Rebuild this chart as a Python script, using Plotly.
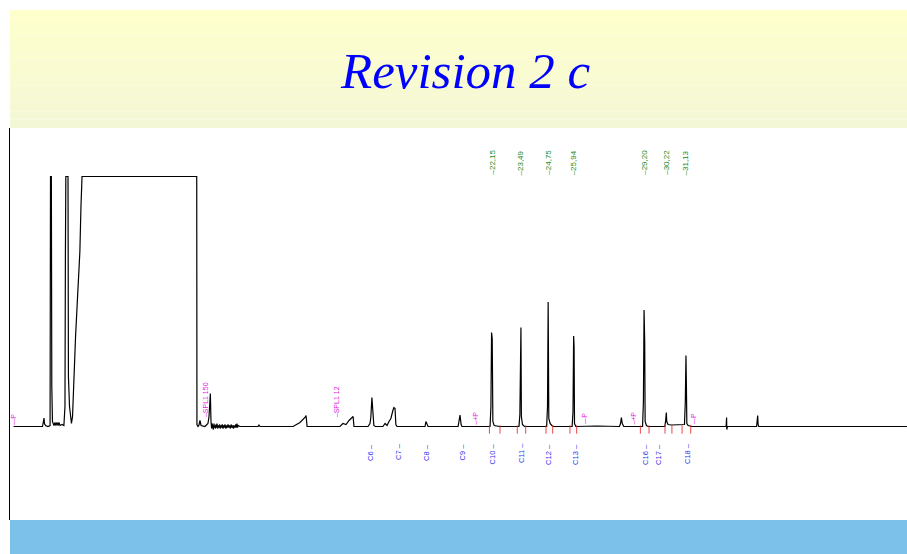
import plotly.graph_objects as go

# ---------------- data (time in min, detector signal in arbitrary units; 250 = saturated) ----------------
trace_time = [
    0.00, 1.34, 1.39, 1.41, 1.43, 1.48, 1.59, 1.69,
    1.71, 1.75, 1.77, 1.80, 1.87, 1.92, 1.96, 2.01, 2.06, 2.10, 2.15, 2.24, 2.33,
    2.38, 2.40, 2.42, 2.52, 2.54, 2.59, 2.63, 2.68,
    2.73, 2.80, 2.87, 2.94, 3.00, 3.07, 3.12, 3.17,
    8.48, 8.49, 8.54, 8.58, 8.63, 8.68, 8.86, 9.00, 9.05, 9.08, 9.11, 9.14,
    9.17, 9.19, 9.21, 9.23, 9.25, 9.28, 9.30, 9.32, 9.35, 9.37, 9.40, 9.42, 9.45, 9.48,
    9.51, 9.54, 9.57, 9.60, 9.63, 9.66, 9.70, 9.73, 9.76, 9.79, 9.83, 9.87, 9.90, 9.93,
    9.97, 10.00, 10.04, 10.07, 10.11, 10.15, 10.18, 10.21, 10.25, 10.29, 10.32, 10.34, 10.37, 10.39, 10.48,
    11.32, 11.36, 11.41,
    12.94, 13.26, 13.49, 13.54, 13.59,
    15.11, 15.25, 15.39, 15.53, 15.72, 15.76,
    16.41, 16.50, 16.54, 16.59, 16.63, 16.68, 16.75,
    17.10, 17.20, 17.29, 17.38, 17.47, 17.56, 17.61, 17.66, 17.70, 17.75,
    19.05, 19.09, 19.14, 19.19,
    20.58, 20.62, 20.67, 20.72, 20.76,
    22.06, 22.10, 22.13, 22.16, 22.19, 22.25, 22.50,
    23.40, 23.44, 23.46, 23.49, 23.51, 23.56, 23.65,
    24.68, 24.72, 24.75, 24.78, 24.84, 24.92, 25.00,
    25.86, 25.90, 25.93, 25.95, 25.97, 26.03,
    27.00, 27.50,
    28.05, 28.10, 28.14, 28.18, 28.25,
    29.12, 29.16, 29.19, 29.22, 29.24, 29.30, 29.38,
    30.15, 30.19, 30.22, 30.24, 30.30, 30.45, 30.95,
    31.06, 31.10, 31.13, 31.15, 31.17, 31.23, 31.40,
    32.99, 33.01, 33.02, 33.05,
    34.40, 34.42, 34.45, 34.47, 34.50,
    41.36,
]
trace_signal = [
    0, 0, 6, 8.5, 3, 1, 0, 1,
    250, 250, 40, 5, 1, 4, 1, 4, 1, 4, 1, 2, 1,
    20, 170, 250, 250, 50, 20, 8, 3,
    10, 60, 90, 120, 140, 175, 220, 250,
    250, 2, 0, 1, 6, 1, 0, 3, 10, 33, 33, 5,
    -2, 3, -1, 2, -3, 3, -1, 1, -2, 2, -1, 3, -2, 1,
    -1, 2, -2, 1, -1, 2, -2, 1, -1, 2, -2, 1, -1, 2,
    -1, 1, -2, 2, -1, 1, -2, 1, -1, 2, -1, 3, -1, 1, 0,
    0, 1.5, 0,
    0, 4, 9, 11, 0,
    0, 3, 2, 6, 10, 0,
    0, 3, 9, 29, 10, 1, 0,
    0, 3, 1, 5, 8, 16, 19, 18, 2, 0,
    0, 5, 2, 0,
    0, 5, 11.5, 2, 0,
    0, 20, 94, 88, 5, 1, 0,
    0, 12, 70, 99, 10, 2, 0,
    0, 20, 124.5, 8, 3, 1, 0,
    0, 15, 90.5, 80, 3, 0,
    0.5, 0,
    0, 3, 9, 3, 0,
    0, 25, 116.5, 85, 5, 1, 0,
    0, 6, 14, 5, 2, 1.5, 1.5,
    2, 25, 71, 42, 3, 1, 0,
    0, 9, -3, 0,
    0, 11, 11, 2, 0,
    0,
]

carbon_names = ["C6", "C7", "C8", "C9", "C10", "C11", "C12", "C13", "C16", "C17", "C18"]
carbon_label_times = [16.50, 17.80, 19.09, 20.78, 22.17, 23.52, 24.74, 25.99, 29.23, 29.83, 31.18]

rt_values = [22.15, 23.49, 24.75, 25.94, 29.20, 30.22, 31.13]
rt_labels = ["22,15", "23,49", "24,75", "25,94", "29,20", "30,22", "31,13"]

event_texts = ["-P", "SPL1 150", "SPL1 12", "+P", "-P", "+P", "-P"]
event_times = [-0.03, 8.89, 14.96, 21.35, 26.41, 28.66, 31.47]

integration_marks = [22.03, 22.52, 23.32, 23.71, 24.65, 24.96, 25.76, 26.07,
                     29.02, 29.42, 30.16, 30.48, 30.95, 31.35]

# ---------------- figure ----------------
fig = go.Figure()

fig.add_trace(go.Scatter(
    x=trace_time, y=trace_signal, mode="lines",
    line=dict(color="black", width=1.2), hoverinfo="skip", showlegend=False,
))

fig.add_trace(go.Scatter(
    x=integration_marks, y=[-3] * len(integration_marks), mode="markers",
    marker=dict(symbol="line-ns", size=6, line=dict(color="rgba(230,40,40,0.85)", width=1)),
    hoverinfo="skip", showlegend=False,
))

annotations = []
label_font = "Liberation Sans, Arial, sans-serif"
for name, t in zip(carbon_names, carbon_label_times):
    annotations.append(dict(
        x=t, y=-15, xref="x", yref="y", text=name + " \u2013", showarrow=False,
        textangle=-90, yanchor="top", xanchor="center",
        font=dict(family=label_font, size=7.5, color="#3030f0"),
    ))
for lab, t in zip(rt_labels, rt_values):
    annotations.append(dict(
        x=t, y=249.5, xref="x", yref="y", text="\u2013" + lab, showarrow=False,
        textangle=-90, yanchor="bottom", xanchor="center",
        font=dict(family=label_font, size=8, color="#1a8a1a"),
    ))
for txt, t in zip(event_texts, event_times):
    base = 7.5 if txt.startswith("SPL") else 0
    annotations.append(dict(
        x=t, y=base, xref="x", yref="y", text="\u2013" + txt, showarrow=False,
        textangle=-90, yanchor="bottom", xanchor="center",
        font=dict(family=label_font, size=7, color="#e020e0"),
    ))

annotations.append(dict(
    x=0.508, y=1.145, xref="paper", yref="paper", text="Revision 2 c", showarrow=False,
    xanchor="center", yanchor="middle",
    font=dict(family="Liberation Serif, Times New Roman, serif", size=51, color="#0000ff",
              style="italic"),
))

# decorative bands: yellow header (gradient in strips) and blue footer
shapes = []
n_strips = 14
top_c = (255, 255, 204)
bot_c = (244, 247, 214)
y_lo, y_hi = 1.0, (520 - 10) / 392
for i in range(n_strips):
    f = i / (n_strips - 1)
    c = tuple(round(top_c[k] + (bot_c[k] - top_c[k]) * f) for k in range(3))
    y1 = y_hi - (y_hi - y_lo) * i / n_strips
    y0 = y_hi - (y_hi - y_lo) * (i + 1) / n_strips
    shapes.append(dict(type="rect", xref="paper", yref="paper", x0=0, x1=1, y0=y0, y1=y1,
                       fillcolor="rgb(%d,%d,%d)" % c, line=dict(width=0), layer="below"))
shapes.append(dict(type="rect", xref="paper", yref="paper", x0=0, x1=1,
                   y0=(520 - 554) / 392, y1=0, fillcolor="#7cc1ea",
                   line=dict(width=0), layer="below"))

fig.update_layout(
    width=907, height=554,
    margin=dict(l=10, r=0, t=128, b=34, pad=0),
    paper_bgcolor="white", plot_bgcolor="white",
    xaxis=dict(range=[-0.165, 41.363], visible=False, fixedrange=True),
    yaxis=dict(range=[-93.5, 298.5], showline=True, linecolor="black", linewidth=1,
               showticklabels=False, ticks="", showgrid=False, zeroline=False, fixedrange=True),
    annotations=annotations, shapes=shapes, showlegend=False,
)

fig.write_html("out.html")
